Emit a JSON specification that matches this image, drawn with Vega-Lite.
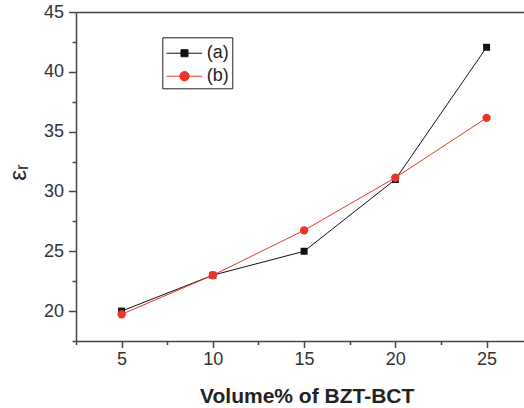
{
  "$schema": "https://vega.github.io/schema/vega-lite/v6.json",
  "autosize": "none",
  "width": 448,
  "height": 329,
  "padding": {"left": 76, "top": 12, "right": 0, "bottom": 67},
  "background": "white",
  "config": {
    "view": {"stroke": null},
    "font": "Liberation Sans",
    "axis": {"labelFont": "Liberation Sans", "titleFont": "Liberation Sans", "labelColor": "#333", "titleColor": "#222", "domainColor": "#444", "tickColor": "#444", "domainWidth": 1.5, "tickWidth": 1.5, "grid": false}
  },
  "data": {"values": [
    {"vol": 5, "er": 20.0, "series": "(a)"},
    {"vol": 10, "er": 23.0, "series": "(a)"},
    {"vol": 15, "er": 25.0, "series": "(a)"},
    {"vol": 20, "er": 31.0, "series": "(a)"},
    {"vol": 25, "er": 42.05, "series": "(a)"},
    {"vol": 5, "er": 19.73, "series": "(b)"},
    {"vol": 10, "er": 23.0, "series": "(b)"},
    {"vol": 15, "er": 26.75, "series": "(b)"},
    {"vol": 20, "er": 31.15, "series": "(b)"},
    {"vol": 25, "er": 36.15, "series": "(b)"}
  ]},
  "resolve": {"axis": {"x": "independent", "y": "independent"}},
  "layer": [
    {
      "mark": {"type": "line", "strokeWidth": 1, "clip": true},
      "encoding": {
        "x": {"field": "vol", "type": "quantitative", "scale": {"domain": [2.5, 27.05], "nice": false, "zero": false},
          "axis": {"orient": "bottom", "values": [5, 10, 15, 20, 25], "tickSize": 6.5, "labelFontSize": 18, "labelPadding": 2.5, "title": "Volume% of BZT-BCT", "titleFontSize": 21, "titleFontWeight": "bold", "titleX": 230.7, "titleY": 61.5, "titleBaseline": "alphabetic"}},
        "y": {"field": "er", "type": "quantitative", "scale": {"domain": [17.5, 45], "nice": false, "zero": false},
          "axis": {"orient": "left", "values": [20, 25, 30, 35, 40, 45], "tickSize": 7.5, "labelFontSize": 18, "labelPadding": 5, "title": "εᵣ", "titleFontSize": 24, "titleFontWeight": "normal", "titleX": -51, "titleY": 160, "titleBaseline": "alphabetic", "titleAngle": -90}},
        "color": {"field": "series", "type": "nominal", "scale": {"domain": ["(a)", "(b)"], "range": ["#111111", "#e8362b"]},
          "legend": {"orient": "none", "legendX": 86.3, "legendY": 25.3, "title": null, "strokeColor": "#222", "padding": 3, "labelFontSize": 18, "labelColor": "#222", "rowPadding": 1, "symbolSize": 324, "symbolStrokeWidth": 1, "labelOffset": 22.4,
            "labelExpr": "datum.label + '\u2002'",
            "encode": {
              "labels": {"update": {"dy": {"value": 3.4}}},
              "symbols": {"update": {
              "shape": {"signal": "datum.value == '(a)' ? 'M-0.92,0.38H0.69M1.47,0.38H3.04M0.69,-0.01H1.47V0.77H0.69Z' : 'M-0.92,0.38H0.56M1.6,0.38H3.04M1.6,0.38A0.52,0.52 0 1,1 0.56,0.38A0.52,0.52 0 1,1 1.6,0.38Z'"},
              "fill": {"signal": "datum.value == '(a)' ? '#111111' : '#e8362b'"},
              "fillOpacity": {"value": 1}
            }}}}}
      }
    },
    {
      "transform": [{"filter": "datum.series == '(a)'"}],
      "mark": {"type": "point", "shape": "square", "filled": true, "size": 49, "color": "#111111", "opacity": 1},
      "encoding": {
        "x": {"field": "vol", "type": "quantitative", "axis": {"orient": "bottom", "values": [2.5, 7.5, 12.5, 17.5, 22.5], "tickSize": 3.5, "labels": false, "domain": false, "title": null}},
        "y": {"field": "er", "type": "quantitative", "axis": {"orient": "left", "values": [17.5, 22.5, 27.5, 32.5, 37.5, 42.5], "tickSize": 4, "labels": false, "domain": false, "title": null}}
      }
    },
    {
      "transform": [{"filter": "datum.series == '(b)'"}],
      "mark": {"type": "point", "shape": "circle", "filled": true, "size": 70, "color": "#e8362b", "opacity": 1},
      "encoding": {
        "x": {"field": "vol", "type": "quantitative", "axis": {"orient": "top", "ticks": false, "labels": false, "domain": true, "title": null}},
        "y": {"field": "er", "type": "quantitative", "axis": null}
      }
    }
  ]
}
